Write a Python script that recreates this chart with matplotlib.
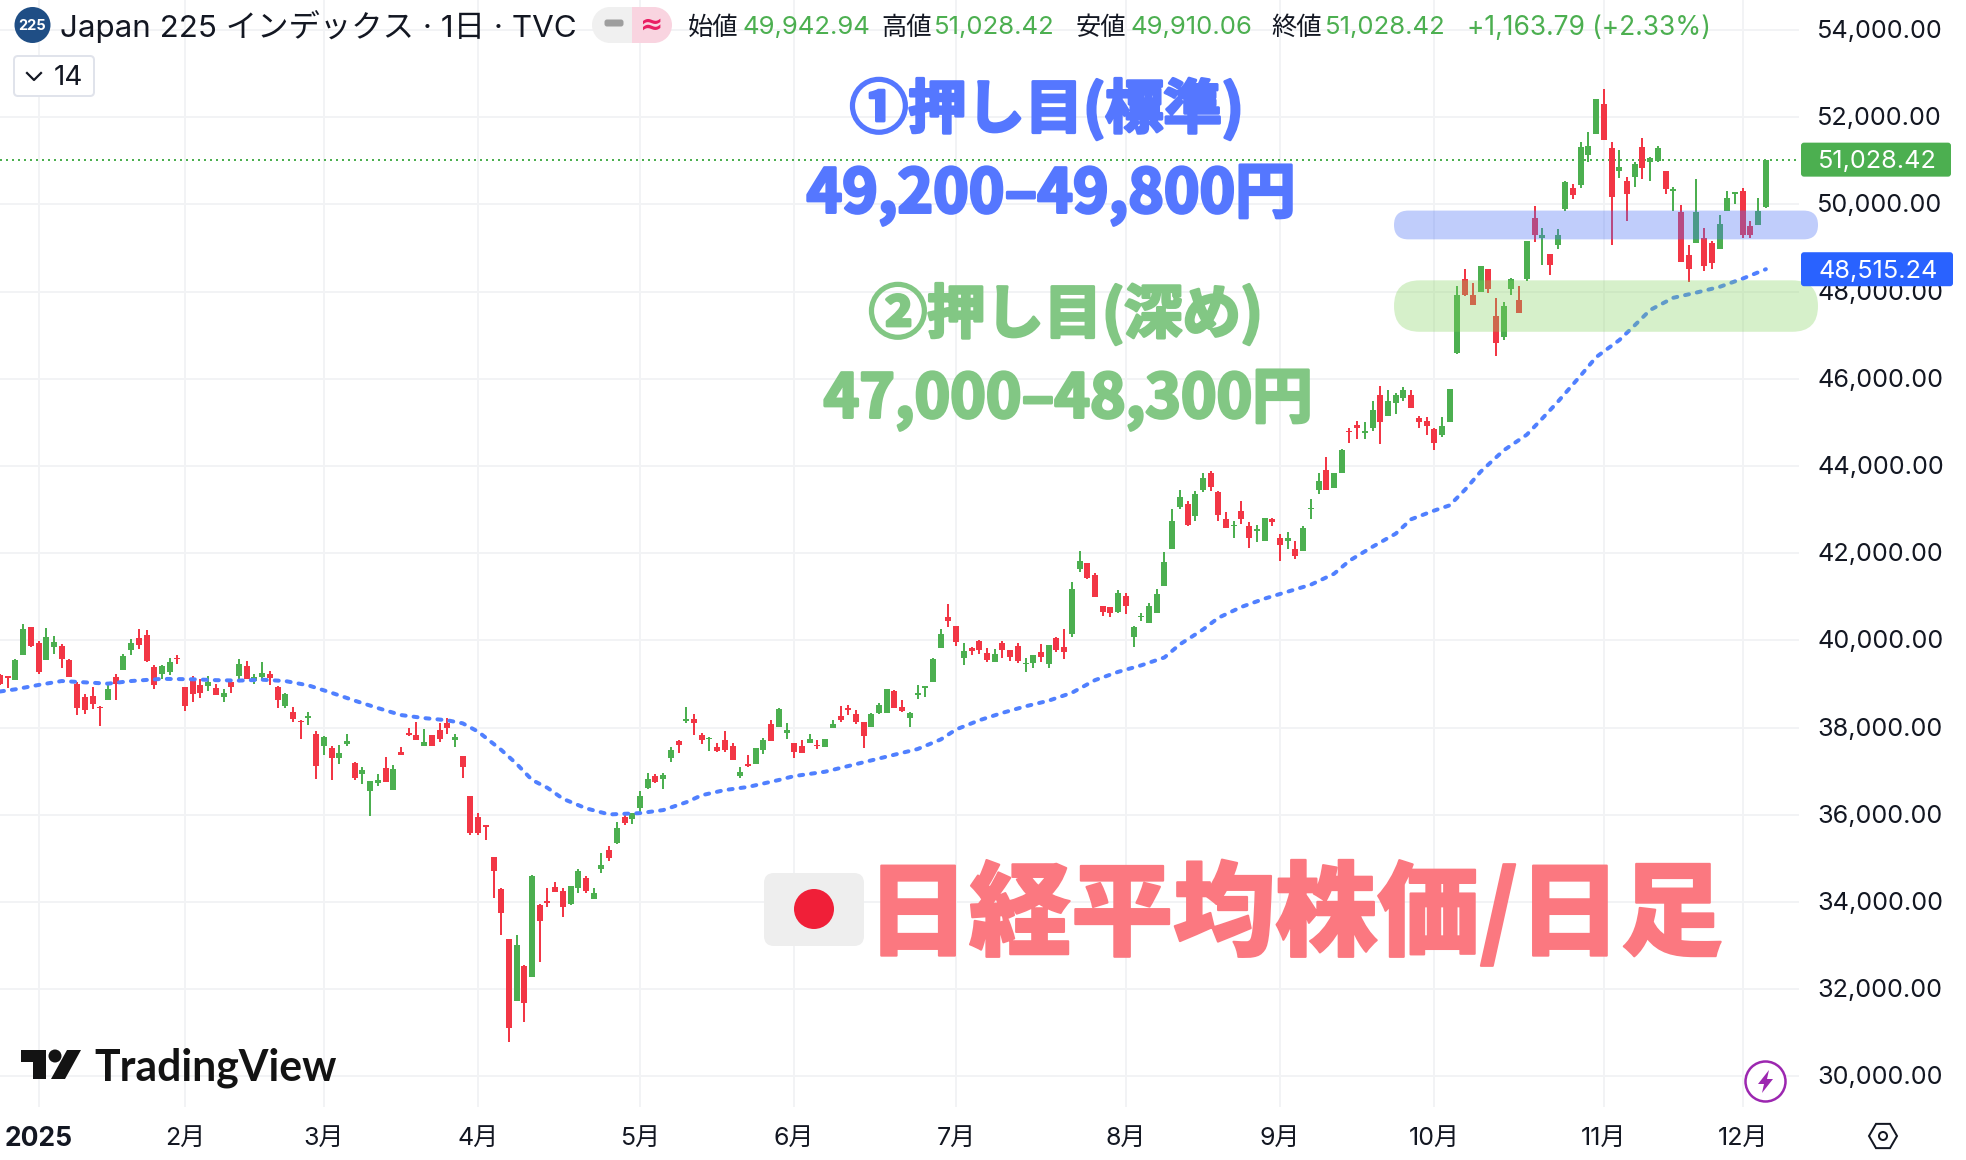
import matplotlib
matplotlib.use('Agg')
import matplotlib.pyplot as plt
import matplotlib.patheffects as pe
from matplotlib.patches import Circle, FancyBboxPatch, Polygon, Rectangle, RegularPolygon
from matplotlib.transforms import ScaledTranslation

plt.rcParams['font.family'] = ['Inter', 'Noto Sans CJK JP', 'DejaVu Sans']

# daily bars
opens = [39210, 39190, 39100, 39660, 40310, 39950, 39560, 39850, 39880, 39560,
	39010, 38710, 38730, 38480, 38640, 39170, 39330, 39790, 40060, 40130,
	39400, 39240, 39280, 39600, 38940, 39100, 38980, 38960, 38910, 38710,
	39050, 39190, 39420, 39070, 39160, 39240, 38940, 38500, 38360, 38160,
	38230, 37860, 37580, 37540, 37310, 37630, 37190, 36940, 36550, 36730,
	37080, 36570, 37440, 37880, 37840, 37580, 37840, 37950, 38110, 37720,
	37350, 36440, 35950, 35760, 35030, 34300, 33160, 31720, 32540, 32290,
	33940, 34030, 34350, 34260, 33960, 34320, 34550, 34070, 34760, 35190,
	35350, 35950, 35910, 36160, 36620, 36890, 36830, 37310, 37700, 38160,
	38200, 37840, 37730, 37560, 37720, 37580, 36890, 37170, 37170, 37490,
	38090, 38020, 37880, 37650, 37580, 37650, 37600, 37560, 38000, 38270,
	38450, 38320, 38130, 38020, 38340, 38340, 38850, 38480, 38230, 38750,
	38920, 39050, 39830, 40540, 40340, 39600, 39830, 39990, 39720, 39510,
	39950, 39790, 39880, 39450, 39490, 39740, 39460, 40060, 39850, 40160,
	41630, 41770, 41510, 40780, 40760, 40660, 41030, 40090, 40530, 40410,
	40640, 41260, 42090, 43070, 43140, 42850, 43440, 43850, 43400, 42780,
	42620, 42980, 42620, 42500, 42290, 42780, 42360, 42290, 42090, 42060,
	43010, 43440, 43900, 43490, 43850, 44810, 44950, 44770, 44880, 45640,
	45160, 45450, 45570, 45640, 45110, 45040, 44840, 44720, 45020, 46600,
	48280, 47930, 48000, 48510, 47450, 46970, 48070, 47820, 48300, 49680,
	49220, 48870, 49080, 49890, 50370, 50440, 51130, 51610, 52300, 51290,
	50760, 50530, 50620, 51310, 50970, 50990, 50760, 50300, 49820, 48830,
	49110, 49240, 49110, 48990, 49840, 50230, 50320, 49500, 49520, 49942.94]
highs = [39240, 39190, 39580, 40380, 40310, 39990, 40290, 40110, 39920, 39580,
	39050, 38780, 38940, 38490, 39020, 39240, 39690, 40040, 40270, 40240,
	39440, 39440, 39600, 39670, 38940, 39190, 39120, 39190, 39010, 38890,
	39100, 39580, 39530, 39240, 39510, 39300, 38960, 38800, 38480, 38180,
	38360, 37930, 37810, 37580, 37600, 37860, 37220, 37100, 36780, 36940,
	37330, 37150, 37560, 38000, 38130, 37970, 37840, 38110, 38230, 37860,
	37350, 36440, 36040, 35760, 35030, 34320, 33160, 33250, 32560, 34620,
	33960, 34320, 34460, 34320, 34370, 34760, 34600, 34320, 35120, 35280,
	35830, 36070, 36050, 36550, 36960, 36940, 36960, 37560, 37720, 38480,
	38320, 37880, 37790, 37650, 37930, 37650, 37100, 37380, 37540, 37770,
	38180, 38450, 38110, 37650, 37720, 37860, 37720, 37740, 38180, 38500,
	38520, 38410, 38130, 38340, 38570, 38890, 38870, 38640, 38360, 38980,
	38960, 39600, 40270, 40840, 40340, 39950, 39850, 40020, 39830, 39810,
	39980, 39790, 39950, 39600, 39670, 39920, 39900, 40080, 40270, 41350,
	42060, 41770, 41540, 40800, 40760, 41150, 41080, 40340, 40640, 40850,
	41170, 42040, 43010, 43460, 43210, 43420, 43830, 43880, 43420, 42940,
	42730, 43210, 42710, 42640, 42820, 42800, 42450, 42480, 42290, 42620,
	43240, 43830, 44200, 43850, 44400, 44880, 45040, 45020, 45500, 45840,
	45750, 45680, 45820, 45750, 45160, 45130, 44880, 45130, 45770, 48140,
	48530, 48190, 48600, 48510, 47860, 47770, 48320, 48140, 49170, 49960,
	49450, 48870, 49430, 50550, 50480, 51430, 51660, 52410, 52640, 51430,
	51240, 50640, 50970, 51520, 51080, 51330, 50760, 50390, 49980, 49080,
	50580, 49450, 49170, 49750, 50320, 50280, 50370, 49630, 50140, 51028.42]
lows = [38980, 38920, 39100, 39660, 39850, 39240, 39560, 39690, 39370, 39170,
	38290, 38320, 38430, 38040, 38640, 38640, 39330, 39670, 39810, 39510,
	38890, 39120, 39210, 39460, 38390, 38590, 38680, 38840, 38750, 38590,
	38800, 39100, 39120, 39010, 39100, 38980, 38450, 38450, 38130, 37740,
	38060, 36830, 37380, 36800, 37170, 37580, 36800, 36710, 35980, 36660,
	36760, 36570, 37380, 37810, 37720, 37580, 37580, 37670, 37860, 37560,
	36850, 35540, 35540, 35420, 34100, 33250, 30800, 31720, 31260, 32290,
	32630, 33890, 34230, 33660, 33940, 34210, 34210, 34070, 34670, 34940,
	35330, 35770, 35790, 36050, 36600, 36730, 36600, 37220, 37420, 38110,
	37840, 37630, 37470, 37440, 37440, 37260, 36850, 37100, 37170, 37400,
	37700, 38020, 37740, 37310, 37420, 37650, 37510, 37560, 38000, 38130,
	38290, 38090, 37540, 38020, 38320, 38340, 38450, 38360, 38020, 38660,
	38710, 39050, 39830, 40310, 39880, 39440, 39670, 39690, 39510, 39510,
	39590, 39530, 39490, 39280, 39370, 39510, 39370, 39740, 39580, 40090,
	41560, 41400, 40990, 40570, 40550, 40640, 40600, 39860, 40440, 40410,
	40640, 41260, 42090, 43010, 42620, 42730, 43400, 43420, 42730, 42570,
	42340, 42680, 42130, 42270, 42290, 42620, 41830, 42090, 41860, 42060,
	42780, 43350, 43440, 43490, 43850, 44540, 44610, 44610, 44810, 44500,
	45160, 45200, 45500, 45340, 44880, 44720, 44360, 44660, 45020, 46580,
	47910, 47700, 48000, 47960, 46530, 46900, 47930, 47500, 48250, 49130,
	48620, 48390, 48970, 49840, 50120, 50370, 50970, 51610, 51470, 49080,
	50600, 49630, 50390, 50580, 50530, 50970, 50250, 49840, 48670, 48230,
	49110, 48480, 48510, 48970, 49840, 50000, 49220, 49240, 49520, 49910.06]
closes = [39010, 39140, 39560, 40270, 39880, 39280, 40080, 39970, 39580, 39170,
	38450, 38410, 38550, 38450, 38890, 39010, 39650, 39950, 39900, 39530,
	38980, 39420, 39510, 39570, 38500, 38780, 38800, 39050, 38750, 38800,
	38940, 39460, 39120, 39160, 39260, 39140, 38640, 38780, 38200, 38120,
	38270, 37120, 37790, 37310, 37420, 37700, 36850, 37030, 36780, 36800,
	36760, 37050, 37380, 37840, 37720, 37670, 37580, 37740, 38000, 37790,
	37100, 35590, 35580, 35720, 34710, 33750, 31120, 33020, 31690, 34600,
	33570, 33980, 34230, 33890, 34370, 34710, 34260, 34210, 34850, 35010,
	35700, 35820, 36050, 36440, 36830, 36760, 36920, 37490, 37600, 38200,
	38110, 37720, 37770, 37470, 37490, 37260, 36990, 37120, 37540, 37720,
	37700, 38430, 37950, 37440, 37420, 37740, 37570, 37740, 38090, 38180,
	38410, 38130, 37810, 38320, 38520, 38890, 38450, 38390, 38340, 38800,
	38960, 39580, 40150, 40450, 39970, 39760, 39760, 39790, 39560, 39690,
	39790, 39630, 39530, 39490, 39670, 39630, 39900, 39790, 39740, 41170,
	41830, 41440, 40990, 40660, 40640, 41080, 40780, 40300, 40570, 40800,
	41060, 41810, 42730, 43280, 42640, 43370, 43720, 43530, 42870, 42590,
	42660, 42780, 42360, 42550, 42820, 42710, 42180, 42340, 41930, 42590,
	43050, 43650, 43440, 43830, 44380, 44780, 44880, 44810, 45290, 45020,
	45500, 45640, 45750, 45340, 45020, 44910, 44520, 44930, 45770, 47930,
	47930, 47700, 48580, 48070, 46830, 47680, 48280, 47500, 49170, 49290,
	49310, 48620, 49290, 50510, 50210, 51310, 51330, 52410, 51470, 50180,
	50870, 50250, 50920, 50830, 51060, 51290, 50350, 50350, 48670, 48510,
	49820, 48600, 48650, 49560, 50160, 50280, 49290, 49290, 49860, 51028.42]

# moving average, read at these bars
ma_bars = [0, 2, 5, 8, 11, 14, 17, 21, 25, 28, 31, 34, 37, 40, 43, 46, 49, 52, 55, 58, 60, 62,
	65, 67, 69, 71, 73, 76, 79, 83, 86, 89, 91, 94, 97, 101, 103, 107, 110, 113, 116, 119,
	122, 124, 127, 130, 133, 136, 139, 142, 145, 148, 151, 153, 156, 158, 161, 164, 167,
	170, 173, 175, 178, 181, 183, 186, 188, 190, 192, 195, 198, 200, 202, 205, 207, 210,
	212, 214, 217, 220, 223, 226, 229]
ma_values = [38830, 38880, 38980, 39070, 39040, 39010, 39070, 39120, 39110, 39090, 39080, 39100,
	39070, 38970, 38800, 38620, 38450, 38290, 38220, 38170, 38100, 37910,
	37490, 37170, 36800, 36620, 36370, 36150, 36010, 36040, 36110, 36290, 36450, 36570, 36640,
	36800, 36890, 36990, 37120, 37250, 37380, 37510, 37730, 37960, 38170, 38340, 38490, 38620,
	38800, 39090, 39280, 39430, 39610, 39910, 40250, 40520, 40770, 40960, 41120, 41280, 41530,
	41830, 42150, 42450, 42780, 42980, 43100, 43460, 43870, 44360, 44720, 45090, 45470, 46080,
	46500, 46890, 47230, 47580, 47860, 47980, 48110, 48300, 48515.24]

month_bars = [5, 24, 42, 62, 83, 103, 124, 146, 166, 186, 208, 226]
month_labels = ['2025', '2月', '3月', '4月', '5月', '6月', '7月', '8月', '9月', '10月', '11月', '12月']
price_ticks = list(range(30000, 54001, 2000))

last_close = 51028.42
last_ma = 48515.24
zone1 = [49200, 49860]
zone2 = [47080, 48260]

ohlc_labels = ['始値', '高値', '安値', '終値']
ohlc_values = ['49,942.94', '51,028.42', '49,910.06', '51,028.42']
change_text = '+1,163.79 (+2.33%)'

W, H = 1966, 1160
GREEN = '#4CAF50'
RED = '#F23645'
INK = '#131722'
GRID = '#F2F3F5'
JP = ['Noto Sans CJK JP', 'DejaVu Sans']
px = 0.72  # one pixel in points

fig = plt.figure(figsize=(W / 100, H / 100), dpi=100, facecolor='white')
ax = fig.add_axes([0, 1 - 1107 / H, 1799 / W, 1107 / H])
ax.set_xlim(0, 233.3)
ax.set_ylim(29300, 54690)
for s in ax.spines.values():
	s.set_visible(False)
ax.set_axisbelow(True)
ax.grid(True, color=GRID, linewidth=2 * px)
ax.set_xticks(month_bars)
ax.set_xticklabels(month_labels, fontsize=18)
ax.get_xticklabels()[0].set_fontweight('bold')
ax.get_xticklabels()[0].set_fontsize(19)
ax.set_yticks(price_ticks)
ax.set_yticklabels([f'{v:,.2f}' for v in price_ticks], fontsize=18.2)
ax.yaxis.tick_right()
ax.tick_params(axis='x', length=0, pad=14, colors=INK)
ax.tick_params(axis='y', length=0, pad=13, colors=INK)
for t in ax.get_yticklabels():
	t.set_transform(t.get_transform() + ScaledTranslation(0, 1 / 100, fig.dpi_scale_trans))

for i in range(len(opens)):
	c = GREEN if closes[i] >= opens[i] else RED
	ax.vlines(i, lows[i], highs[i], color=c, linewidth=2 * px, zorder=3)
	ax.bar(i, abs(closes[i] - opens[i]), bottom=min(opens[i], closes[i]), width=0.78, color=c, linewidth=0, zorder=3)

ax.plot(ma_bars, ma_values, color='#5080FF', linewidth=4 * px, linestyle=(0, (1, 2)), dash_capstyle='round', zorder=4)
ax.axhline(last_close, color=GREEN, linewidth=2 * px, linestyle=(0, (1, 2)), zorder=2)

# everything else goes on a pixel overlay
ov = fig.add_axes([0, 0, 1, 1])
ov.set_xlim(0, W)
ov.set_ylim(H, 0)
ov.axis('off')
ov.patch.set_alpha(0)


def price_y(p):
	return H - ax.transData.transform((0, p))[1]


def band(low, high, color, alpha):
	top, bottom = price_y(high), price_y(low)
	r = (bottom - top) / 2
	ov.add_patch(FancyBboxPatch((1394 + r, top + r), 424 - 2 * r, 0, boxstyle=f'round,pad={r}',
		facecolor=color, alpha=alpha, linewidth=0))


def label(y, text, color, width):
	ov.add_patch(FancyBboxPatch((1801, y - 17), width, 34, boxstyle='round,pad=0,rounding_size=3', facecolor=color, linewidth=0, zorder=5))
	ov.text(1818, y + 2, text, color='white', fontsize=18.2, va='center', ha='left', zorder=6)


def heavy(x, y, text, color, size, weight, stroke):
	ov.text(x, y, text, color=color, fontsize=size, fontweight=weight, family=JP, ha='center', va='center',
		path_effects=[pe.withStroke(linewidth=stroke, foreground=color)])


band(zone1[0], zone1[1], '#4B70F6', 0.35)
band(zone2[0], zone2[1], '#82D35C', 0.32)
label(price_y(last_close), f'{last_close:,.2f}', GREEN, 150)
label(price_y(last_ma), f'{last_ma:,.2f}', '#2962FF', 152)

# header
ov.add_patch(Circle((32.5, 25), 18, facecolor='#1F4E85', linewidth=0))
ov.text(32.5, 25.5, '225', color='white', fontsize=10.5, fontweight='bold', ha='center', va='center')
ov.text(60, 27, 'Japan 225 インデックス · 1日 · TVC', color=INK, fontsize=22.6, ha='left', va='center')
ov.add_patch(Circle((610, 25), 18, facecolor='#F0F0F0', linewidth=0))
ov.add_patch(Rectangle((610, 7), 22, 36, facecolor='#F0F0F0', linewidth=0))
ov.add_patch(Circle((654, 25), 18, facecolor='#F9D4E0', linewidth=0))
ov.add_patch(Rectangle((632, 7), 22, 36, facecolor='#F9D4E0', linewidth=0))
ov.add_patch(FancyBboxPatch((607, 22), 14, 2, boxstyle='round,pad=2.5', facecolor='#9E9E9E', linewidth=0))
ov.text(652, 25, '≈', color='#E91E63', fontsize=20, fontweight='bold', ha='center', va='center', family='DejaVu Sans')

label_x = [688, 881, 1076, 1271]
value_x = [742, 934, 1130, 1325]
for i in range(4):
	ov.text(label_x[i], 28, ohlc_labels[i], color=INK, fontsize=18.2, ha='left', va='center')
	ov.text(value_x[i], 28, ohlc_values[i], color=GREEN, fontsize=18.5, ha='left', va='center')
ov.text(1467, 28, change_text, color=GREEN, fontsize=19, ha='left', va='center')

ov.add_patch(FancyBboxPatch((14, 56), 80, 40, boxstyle='round,pad=0,rounding_size=4', facecolor='white', edgecolor='#E0E3EB', linewidth=2 * px))
ov.plot([27, 34, 41], [73, 80, 73], color=INK, linewidth=2.2 * px)
ov.text(54, 78, '14', color=INK, fontsize=20, ha='left', va='center')

# annotations
BLUE_TXT = '#5577FF'
GREEN_TXT = '#82C784'
heavy(1047, 110, '①押し目(標準)', BLUE_TXT, 42, 'bold', 2.2)
heavy(1051, 195, '49,200–49,800円', BLUE_TXT, 43.5, 'bold', 2.2)
heavy(1066, 315, '②押し目(深め)', GREEN_TXT, 42, 'bold', 2.2)
heavy(1068, 400, '47,000–48,300円', GREEN_TXT, 43.5, 'bold', 2.2)

# flag and big title
ov.add_patch(FancyBboxPatch((764, 873), 100, 73, boxstyle='round,pad=0,rounding_size=10', facecolor='#EEEEEE', linewidth=0))
ov.add_patch(Circle((814, 909), 20, facecolor='#F01F38', linewidth=0))
heavy(1295, 915, '日経平均株価/日足', '#FB7880', 73.5, 'black', 1.5)

# TradingView mark
ov.add_patch(Polygon([(21, 1050), (46, 1050), (46, 1079), (33, 1079), (33, 1062), (21, 1062)], facecolor='#131313', linewidth=0))
ov.add_patch(Circle((55, 1056), 6.5, facecolor='#131313', linewidth=0))
ov.add_patch(Polygon([(67, 1050), (81, 1050), (65, 1079), (51, 1079)], facecolor='#131313', linewidth=0))
ov.text(94, 1068, 'TradingView', color='#131313', fontsize=30.8, fontweight='bold', family=['Lato', 'DejaVu Sans'], ha='left', va='center')

# bolt and settings icons
ov.add_patch(Circle((1765.5, 1081.5), 20, facecolor='white', edgecolor='#9C27B0', linewidth=2.5 * px))
ov.add_patch(Polygon([(1769, 1070), (1758, 1084), (1764, 1084), (1762, 1093), (1773, 1079), (1767, 1079)], facecolor='#9C27B0', linewidth=0))
ov.add_patch(RegularPolygon((1883, 1136), 6, radius=14, orientation=1.5708, facecolor='white', edgecolor=INK, linewidth=2 * px))
ov.add_patch(Circle((1883, 1136), 4, facecolor='white', edgecolor=INK, linewidth=2 * px))

fig.savefig('out.png', dpi=100)
